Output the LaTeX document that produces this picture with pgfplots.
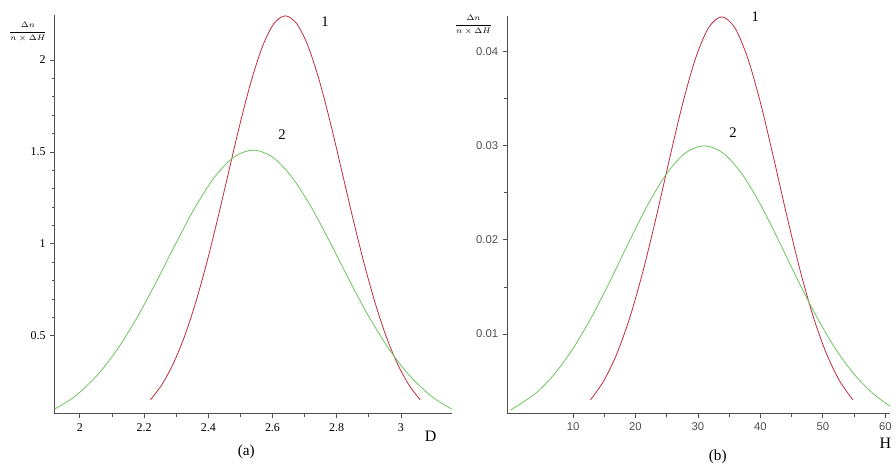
\documentclass[border=0pt]{standalone}
\usepackage{fontspec}
\setmainfont{Liberation Serif}
\setsansfont{Liberation Sans}
\usepackage{pgfplots}
\pgfplotsset{compat=1.18}

\definecolor{curveA}{RGB}{190,45,60}
\definecolor{curveB}{RGB}{110,195,95}
\definecolor{axisgray}{RGB}{80,80,80}

\pgfplotsset{
  panel/.style={
    scale only axis,
    axis lines*=left,
    axis line style={axisgray,-,line width=0.7pt},
    tick align=outside,
    tick style={axisgray,line width=0.6pt},
    major tick length=3.5pt,
    minor tick length=2.5pt,
    clip=false,
    scaled ticks=false,
    /pgf/number format/assume math mode=true,
  },
}

\begin{document}
\begin{tikzpicture}
\path (0,0) rectangle (672pt,353.25pt);

% ---- (a) ----
\begin{axis}[panel,
  at={(41.25pt,42pt)}, anchor=south west,
  width=298.5pt, height=300pt,
  xmin=1.922, xmax=3.158, ymin=0.076, ymax=2.245,
  xtick={2,2.2,2.4,2.6,2.8,3}, minor x tick num=1,
  ytick={0.5,1,1.5,2}, minor y tick num=4,
  tick label style={font=\fontsize{9}{10}\selectfont},
]
\addplot[curveA, line width=0.6pt, smooth] coordinates {
  (2.220,0.152) (2.255,0.233) (2.290,0.345) (2.325,0.492) (2.360,0.677)
  (2.395,0.896) (2.430,1.142) (2.465,1.403) (2.500,1.661) (2.535,1.893)
  (2.570,2.079) (2.605,2.199) (2.640,2.240) (2.675,2.199) (2.710,2.079)
  (2.745,1.893) (2.780,1.661) (2.815,1.403) (2.850,1.142) (2.885,0.896)
  (2.920,0.677) (2.955,0.492) (2.990,0.345) (3.025,0.233) (3.060,0.152)
};
\addplot[curveB, line width=0.6pt, smooth] coordinates {
  (1.922,0.102) (1.96,0.141) (2.00,0.193) (2.06,0.297) (2.12,0.435)
  (2.18,0.605) (2.24,0.800) (2.30,1.006) (2.36,1.202) (2.42,1.364)
  (2.48,1.472) (2.54,1.510) (2.60,1.472) (2.66,1.364) (2.72,1.202)
  (2.78,1.006) (2.84,0.800) (2.90,0.605) (2.96,0.435) (3.02,0.297)
  (3.08,0.193) (3.12,0.141) (3.158,0.102)
};
\node[font=\fontsize{11}{12}\selectfont] at (axis cs:2.764,2.207) {1};
\node[font=\fontsize{11}{12}\selectfont] at (axis cs:2.63,1.592) {2};
\end{axis}

% ---- (b) ----
\begin{axis}[panel,
  at={(381.75pt,42pt)}, anchor=south west,
  width=288pt, height=299.25pt,
  xmin=-0.5, xmax=60.8, ymin=0.00152, ymax=0.0438,
  xtick={10,20,30,40,50,60}, minor x tick num=1,
  ytick={0.01,0.02,0.03,0.04}, minor y tick num=1,
  yticklabel style={/pgf/number format/.cd,fixed,fixed zerofill,precision=2},
  tick label style={font=\sffamily\fontsize{8.5}{10}\selectfont, text=axisgray},
]
\addplot[curveA, line width=0.6pt, smooth] coordinates {
  (12.8,0.00300) (14.9,0.00499) (17.0,0.00787) (19.1,0.01176) (21.2,0.01666)
  (23.3,0.02237) (25.4,0.02847) (27.5,0.03434) (29.6,0.03926) (31.7,0.04255)
  (33.8,0.04370) (35.9,0.04255) (38.0,0.03926) (40.1,0.03434) (42.2,0.02847)
  (44.3,0.02237) (46.4,0.01666) (48.5,0.01176) (50.6,0.00787) (52.7,0.00499)
  (54.8,0.00300)
};
\addplot[curveB, line width=0.6pt, smooth] coordinates {
  (0,0.00190) (4,0.00369) (7,0.00573) (10,0.00845) (13,0.01183) (16,0.01571)
  (19,0.01983) (22,0.02377) (25,0.02705) (28,0.02924) (31,0.03000)
  (34,0.02924) (37,0.02705) (40,0.02377) (43,0.01983) (46,0.01571)
  (49,0.01183) (52,0.00845) (55,0.00573) (58,0.00369) (60.8,0.00230)
};
\node[font=\fontsize{11}{12}\selectfont] at (axis cs:39.2,0.0437) {1};
\node[font=\fontsize{11}{12}\selectfont] at (axis cs:35.6,0.0314) {2};
\end{axis}

% labels
\node[font=\fontsize{6.5}{7}\selectfont] at (21pt,329.25pt) {$\displaystyle\frac{\Delta n}{n\times\Delta H}$};
\node[font=\fontsize{6.5}{7}\selectfont] at (356.25pt,334.5pt) {$\displaystyle\frac{\Delta n}{n\times\Delta H}$};
\node[font=\fontsize{12}{13}\selectfont] at (324pt,24.75pt) {D};
\node[font=\fontsize{12}{13}\selectfont] at (666pt,19.5pt) {H};
\node[font=\fontsize{11.5}{13}\selectfont] at (185.25pt,13.5pt) {(a)};
\node[font=\fontsize{11.5}{13}\selectfont] at (540pt,9.75pt) {(b)};
\end{tikzpicture}
\end{document}
